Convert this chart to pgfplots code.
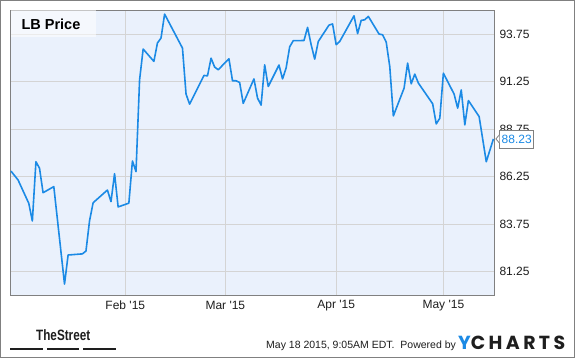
\documentclass[border=0pt]{standalone}
\usepackage{pgfplots}
\pgfplotsset{compat=1.18}
\usepackage{fontspec}
\setmainfont{Liberation Sans}
\newfontfamily\logofont{Poppins}
\usepackage{graphicx}
\definecolor{bgblue}{RGB}{234,241,252}
\definecolor{lineblue}{RGB}{27,138,229}
\definecolor{gridgray}{RGB}{212,212,212}
\definecolor{framegray}{RGB}{128,128,128}
\definecolor{txt}{RGB}{30,30,30}
\begin{document}
\begin{tikzpicture}[x=1pt,y=1pt]
\useasboundingbox (0,0) rectangle (575,358);
\fill[white] (0,0) rectangle (575,358);
\begin{axis}[
  at={(10.7pt,62.7pt)}, anchor=south west,
  scale only axis, width=484pt, height=285pt,
  xmin=-1.06, xmax=134.36, ymin=80, ymax=95,
  axis background/.style={fill=bgblue},
  axis line style={framegray, line width=1pt},
  xtick={31,59,90,120},
  xticklabels={Feb \textquotesingle15,Mar \textquotesingle15,Apr \textquotesingle15,May \textquotesingle15},
  ytick={81.25,83.75,86.25,88.75,91.25,93.75},
  yticklabel pos=right,
  grid=major, major grid style={gridgray, line width=1pt},
  major tick length=0pt,
  tick label style={font=\fontsize{12}{14}\selectfont, text=txt},
  /pgf/number format/fixed, /pgf/number format/fixed zerofill,
  /pgf/number format/precision=2, /pgf/number format/assume math mode=true,
  yticklabel style={anchor=west, inner sep=0pt, xshift=4.6pt},
  xticklabel style={anchor=center, inner sep=0pt, yshift=-10pt},
  clip=false,
]
\addplot[lineblue, line width=1.6pt, line join=round] coordinates {
(-1,86.54) (1,86.07) (4,84.84) (5,83.91) (6,87.03) (7,86.69) (8,85.40) (11,85.72)
(14,80.59) (15,82.12) (19,82.18) (20,82.33) (21,83.92) (22,84.87) (26,85.54) (27,84.93)
(28,86.40) (29,84.65) (32,84.85) (33,87.07) (34,86.51) (35,91.34) (36,92.96) (39,92.31)
(40,93.28) (41,93.54) (42,94.80) (47,93.01) (48,90.59) (49,90.06) (53,91.57) (54,91.55)
(55,92.48) (56,92.01) (57,91.87) (60,92.45) (61,91.29) (62,91.29) (63,91.20) (64,90.10)
(67,91.39) (68,90.38) (69,90.01) (70,92.13) (71,90.99) (74,92.12) (75,91.39) (76,91.96)
(77,93.08) (78,93.40) (81,93.41) (82,94.10) (83,93.19) (84,92.43) (85,93.36) (88,94.22)
(89,94.28) (90,93.19) (91,93.36) (95,94.71) (96,93.77) (97,94.47) (98,94.50) (99,94.68)
(102,93.75) (103,93.71) (104,93.33) (105,92.04) (106,89.44) (109,90.90) (110,92.22)
(111,91.13) (112,91.64) (113,91.17) (117,90.08) (118,89.02) (119,89.32) (120,91.69)
(123,90.59) (124,89.85) (125,90.81) (126,88.97) (127,90.25) (130,89.41) (132,87.03)
(134,88.23)
};
\coordinate (lastpt) at (axis cs:134.36,88.23);
\end{axis}
% title box
\fill[white, opacity=0.55] (10.7,321.3) rectangle (96,347.7);
\node[anchor=west, inner sep=0pt, font=\bfseries\fontsize{14.5}{16}\selectfont, text=black] at (21.3,334) {LB Price};
% callout
\node[draw=framegray, line width=0.8pt, fill=white, text=lineblue, font=\fontsize{12}{14}\selectfont,
      inner xsep=2pt, inner ysep=0pt, minimum height=18pt, anchor=west] (c) at ([xshift=4.6pt]lastpt) {88.23};
\draw[framegray, line width=0.8pt, fill=white] ([yshift=4pt]c.west) -- ([xshift=-3.4pt]c.west) -- ([yshift=-4pt]c.west);
% footer
\node[anchor=base west, inner sep=0pt, font=\fontsize{10.5}{12}\selectfont, text=txt] at (266,9.3) {May 18 2015, 9:05AM EDT.\ \ Powered by};
\node[anchor=base west, inner sep=0pt] at (458,8.3) {\resizebox{107pt}{!}{\logofont\bfseries\fontsize{16}{16}\selectfont\addfontfeature{LetterSpace=18}\textcolor{lineblue}{Y}\textcolor{txt}{CHARTS}}};
\node[anchor=base west, inner sep=0pt] at (36,17.3) {\scalebox{0.78}[1]{\bfseries\fontsize{15}{15}\selectfont\color{txt}TheStreet}};
\fill[txt] (10,7.8) rectangle (42.7,10.2);
\fill[txt] (46.7,7.8) rectangle (79,10.2);
\fill[txt] (83.3,7.8) rectangle (116,10.2);
% outer frame
\draw[framegray, line width=1.2pt] (0.6,0.6) rectangle (574.4,357.4);
\end{tikzpicture}
\end{document}
